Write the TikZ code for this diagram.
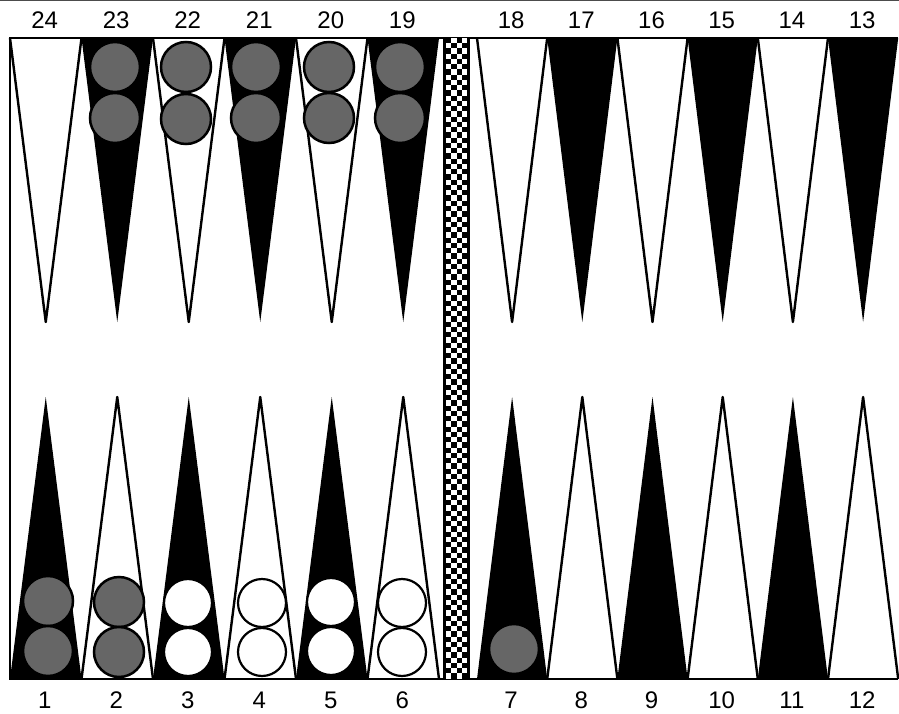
\documentclass[tikz,border=0pt]{standalone}
\usepackage{fontspec}
\setmainfont{Liberation Sans}
\usepackage{tikz}

\begin{document}
\begin{tikzpicture}[x=1pt, y=-1pt, font=\fontsize{24}{28}\selectfont,
    dunkel/.style={fill=black!60, draw=black, line width=2.5pt},
    hell/.style={fill=white, draw=black, line width=2.2pt},
    zackeW/.style={fill=white, draw=black, line width=2.4pt, line join=round},
    zackeS/.style={fill=black}]

    \useasboundingbox (0,0) rectangle (899,714);

    % --- 1. PARAMETER ---
    \def\oben{38}     % Oberkante Brett
    \def\unten{679}   % Unterkante Brett
    \def\spO{322}     % Spitze der oberen Zacken
    \def\spU{397}     % Spitze der unteren Zacken
    \def\r{25}        % Radius Spielstein
    \def\kf{5.25}     % Kantenlaenge Karo in der Bar

    % --- 2. ZACKEN UND NUMMERN ---
    \foreach \i in {1,...,12} {
        \pgfmathsetmacro{\xl}{\i<7 ? 10+71.5*(\i-1) : 477+70.2*(\i-7)}
        \pgfmathsetmacro{\xr}{\xl + (\i<7 ? 71.5 : 70.2)}
        \pgfmathsetmacro{\xm}{(\xl+\xr)/2}
        \pgfmathtruncatemacro{\n}{25-\i}
        % untere Reihe: ungerade schwarz
        \ifodd\i
            \fill[zackeS] (\xl,\unten) -- (\xm,\spU) -- (\xr,\unten) -- cycle;
            \draw[zackeW] (\xl,\oben) -- (\xm,\spO) -- (\xr,\oben);
        \else
            \draw[zackeW] (\xl,\unten) -- (\xm,\spU) -- (\xr,\unten);
            \fill[zackeS] (\xl,\oben) -- (\xm,\spO) -- (\xr,\oben) -- cycle;
        \fi
        \node (p\i) at (\xm-1,700) {\i};
        \node (p\n) at (\xm-1,20) {\n};
    }

    % --- 3. RAHMEN ---
    \draw[line width=0.8pt, black!70] (0,0.5) -- (899,0.5);
    \draw[line width=2.5pt] (898,\oben) -- (10,\oben) -- (10,\unten) -- (898,\unten);

    % --- 4. BAR (Karomuster) ---
    \fill[white] (443,\oben) rectangle (470,\unten);
    \begin{scope}
        \clip (446,\oben) rectangle (467,\unten);
        \foreach \row in {0,...,122} {
            \pgfmathsetmacro{\dx}{mod(\row,2)*\kf}
            \foreach \col in {0,2}
                \fill (446+\col*\kf+\dx, \oben+\row*\kf) rectangle +(\kf,\kf);
        }
    \end{scope}
    \draw[line width=2.5pt] (444.5,\oben) -- (444.5,\unten);
    \draw[line width=2.5pt] (468.5,\oben) -- (468.5,\unten);

    % --- 5. SPIELSTEINE ---
    % dunkle Steine
    \foreach \x/\y in {115/67, 115/118, 186/67, 186/119, 256/67, 256/118,
                       329/67, 329/118, 400/67, 400/118,
                       48/601, 48/651, 119/602, 119/652, 514/649}
        \draw[dunkel] (\x,\y) circle[radius=\r];
    % helle Steine
    \foreach \x/\y in {188/603, 188/652, 262/603, 262/652,
                       331/602, 331/651, 402/603, 402/652}
        \draw[hell] (\x,\y) circle[radius=\r-1];

\end{tikzpicture}
\end{document}
